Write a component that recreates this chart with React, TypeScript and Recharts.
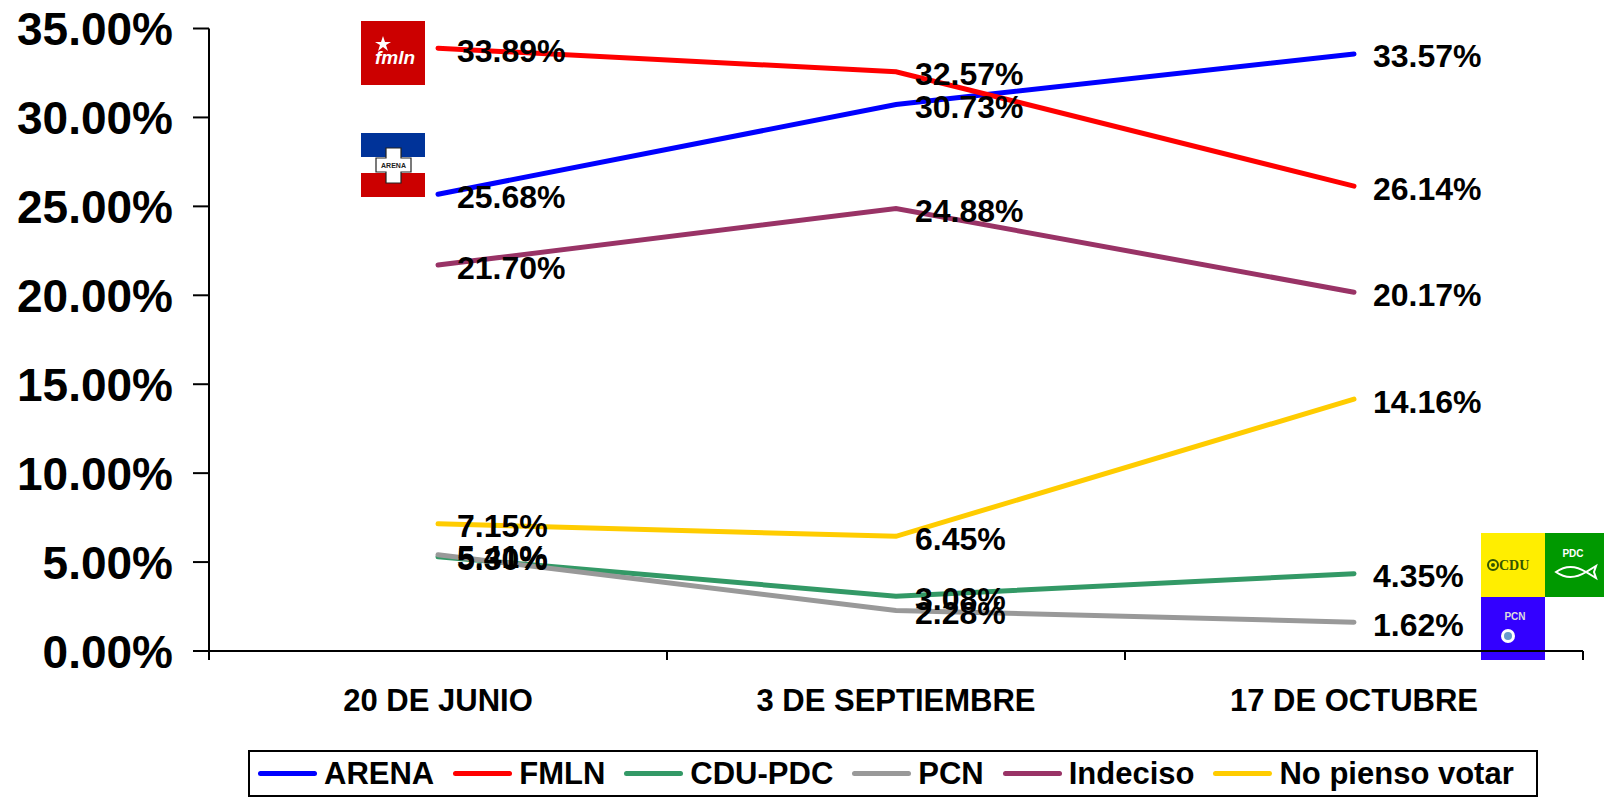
import { LineChart, Line, XAxis, YAxis, Legend, LabelList } from 'recharts'

const dates = ['20 DE JUNIO', '3 DE SEPTIEMBRE', '17 DE OCTUBRE']
const arena = [25.68, 30.73, 33.57]
const fmln = [33.89, 32.57, 26.14]
const cduPdc = [5.3, 3.08, 4.35]
const pcn = [5.41, 2.28, 1.62]
const indeciso = [21.7, 24.88, 20.17]
const noVotar = [7.15, 6.45, 14.16]
const yTicks = [0, 5, 10, 15, 20, 25, 30, 35]

const FONT = '"Liberation Sans", Arial, sans-serif'
const W = 1604
const H = 799
const M = { top: 28.5, right: 21, left: 0, bottom: 41 }
const Y_W = 209
const BW = (W - Y_W - M.right) / dates.length

const series = [
  { key: 'arena', name: 'ARENA', color: '#0000FF', values: arena },
  { key: 'fmln', name: 'FMLN', color: '#FF0000', values: fmln },
  { key: 'cdu', name: 'CDU-PDC', color: '#339966', values: cduPdc },
  { key: 'pcn', name: 'PCN', color: '#999999', values: pcn },
  { key: 'indeciso', name: 'Indeciso', color: '#993366', values: indeciso },
  { key: 'novotar', name: 'No pienso votar', color: '#FFCC00', values: noVotar },
]

const data = dates.map((d, i) => {
  const row: Record<string, string | number> = { date: d }
  series.forEach((s) => (row[s.key] = s.values[i]))
  return row
})

const pct = (v: number) => `${v.toFixed(2)}%`

function YTick({ x, y, payload }: any) {
  return (
    <text x={x} y={y} dy={16.5} textAnchor="end" fontFamily={FONT} fontWeight="bold" fontSize={46} fill="#000">
      {pct(payload.value)}
    </text>
  )
}

function XTick({ x, y, payload, index }: any) {
  return (
    <g>
      <line x1={x - BW / 2} y1={y} x2={x - BW / 2} y2={y + 9} stroke="#000" strokeWidth={2} />
      {index === dates.length - 1 && (
        <line x1={x + BW / 2} y1={y} x2={x + BW / 2} y2={y + 9} stroke="#000" strokeWidth={2} />
      )}
      <text x={x} y={y + 60} textAnchor="middle" fontFamily={FONT} fontWeight="bold" fontSize={31} fill="#000">
        {payload.value}
      </text>
    </g>
  )
}

function ValueLabel({ x, y, value }: any) {
  return (
    <text x={x + 19} y={y + 13.5} fontFamily={FONT} fontWeight="bold" fontSize={32} fill="#000">
      {pct(value)}
    </text>
  )
}

function LegendBox() {
  return (
    <div
      style={{
        boxSizing: 'border-box',
        width: 1290,
        height: 47,
        border: '2px solid #000',
        display: 'flex',
        alignItems: 'center',
        paddingLeft: 8,
        fontFamily: FONT,
        fontWeight: 'bold',
        fontSize: 31,
        color: '#000',
        whiteSpace: 'nowrap',
        background: '#fff',
      }}
    >
      {series.map((s) => (
        <span key={s.key} style={{ display: 'flex', alignItems: 'center', marginRight: 19 }}>
          <span style={{ display: 'inline-block', width: 59, height: 5, borderRadius: 3, background: s.color, marginRight: 7 }} />
          {s.name}
        </span>
      ))}
    </div>
  )
}

function Logos() {
  return (
    <g>
      {/* FMLN */}
      <rect x={361} y={21} width={64} height={64} fill="#CC0000" />
      <polygon points="383,36 385,42 391,42 386,45 388,51 383,47 378,51 380,45 375,42 381,42" fill="#fff" />
      <text x={395} y={64} textAnchor="middle" fontFamily={FONT} fontStyle="italic" fontWeight="bold" fontSize={19} fill="#fff">
        fmln
      </text>
      {/* ARENA */}
      <rect x={361} y={133} width={64} height={24} fill="#003399" />
      <rect x={361} y={157} width={64} height={16} fill="#fff" />
      <rect x={361} y={173} width={64} height={24} fill="#CC0000" />
      <path
        d="M386,148 H401 V158 H411 V172 H401 V183 H386 V172 H376 V158 H386 Z"
        fill="#fff"
        stroke="#222"
        strokeWidth={1.2}
      />
      <text x={393.5} y={168} textAnchor="middle" fontFamily={FONT} fontWeight="bold" fontSize={7} fill="#222">
        ARENA
      </text>
      {/* CDU */}
      <rect x={1481} y={533} width={64} height={64} fill="#FFEE00" />
      <circle cx={1493} cy={565} r={5} fill="none" stroke="#335500" strokeWidth={2} />
      <circle cx={1493} cy={565} r={2} fill="#335500" />
      <text x={1499} y={570} fontFamily="'Liberation Serif', serif" fontWeight="bold" fontSize={14} fill="#335500">
        CDU
      </text>
      {/* PDC */}
      <rect x={1545} y={533} width={59} height={64} fill="#009900" />
      <text x={1573} y={557} textAnchor="middle" fontFamily={FONT} fontWeight="bold" fontSize={10} fill="#fff">
        PDC
      </text>
      <path d="M1556,572 Q1570,562 1586,572 L1596,566 L1594,572 L1596,578 L1586,572 Q1570,582 1556,572 Z" fill="none" stroke="#fff" strokeWidth={2} />
      {/* PCN */}
      <rect x={1481} y={597} width={64} height={63} fill="#3300FF" />
      <text x={1515} y={620} textAnchor="middle" fontFamily={FONT} fontWeight="bold" fontSize={10} fill="#ddd">
        PCN
      </text>
      <circle cx={1508} cy={636} r={7} fill="#fff" />
      <circle cx={1508} cy={636} r={4} fill="#6699cc" />
    </g>
  )
}

export default function App() {
  return (
    <div style={{ position: 'absolute', left: 0, top: 0, width: W, height: H, background: '#fff' }}>
      <LineChart width={W} height={H} data={data} margin={M}>
        <Logos />
        <XAxis
          dataKey="date"
          type="category"
          padding={{ left: BW / 2, right: BW / 2 }}
          height={60}
          interval={0}
          tickSize={0}
          tickMargin={0}
          tickLine={false}
          axisLine={{ stroke: '#000', strokeWidth: 2 }}
          tick={<XTick />}
        />
        <YAxis
          type="number"
          domain={[0, 35]}
          ticks={yTicks}
          width={Y_W}
          tickSize={16}
          tickMargin={20}
          interval={0}
          axisLine={{ stroke: '#000', strokeWidth: 2 }}
          tickLine={{ stroke: '#000', strokeWidth: 2 }}
          tick={<YTick />}
        />
        <Legend
          verticalAlign="bottom"
          content={<LegendBox />}
          wrapperStyle={{ position: 'absolute', left: 248, top: 750, width: 1290, height: 47 }}
        />
        {series.map((s) => (
          <Line
            key={s.key}
            type="linear"
            dataKey={s.key}
            name={s.name}
            stroke={s.color}
            strokeWidth={5}
            strokeLinecap="round"
            dot={false}
            activeDot={false}
            isAnimationActive={false}
          >
            <LabelList dataKey={s.key} content={<ValueLabel />} />
          </Line>
        ))}
      </LineChart>
    </div>
  )
}
